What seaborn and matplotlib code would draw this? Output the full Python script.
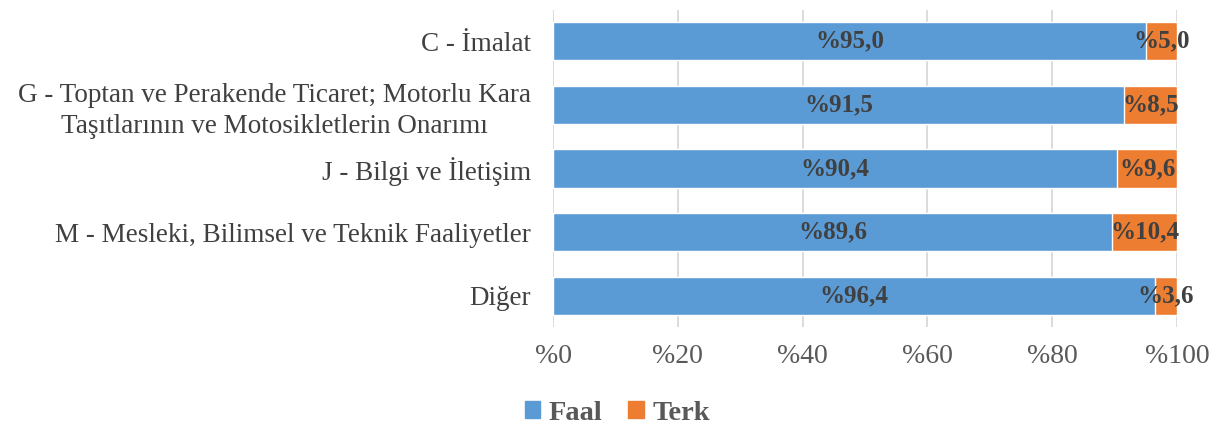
import numpy as np
import pandas as pd
import matplotlib.pyplot as plt
import seaborn as sns
from matplotlib.patches import Patch

categories = ["C - İmalat",
              "G - Toptan ve Perakende Ticaret; Motorlu Kara\nTaşıtlarının ve Motosikletlerin Onarımı",
              "J - Bilgi ve İletişim",
              "M - Mesleki, Bilimsel ve Teknik Faaliyetler",
              "Diğer"]
faal = [95.0, 91.5, 90.4, 89.6, 96.4]
terk = [5.0, 8.5, 9.6, 10.4, 3.6]
ticks = [0, 20, 40, 60, 80, 100]

blue = "#5B9BD5"
orange = "#ED7D31"

sns.set_style("white")
plt.rcParams["font.family"] = ["Liberation Serif", "DejaVu Serif"]

dt = pd.DataFrame({"kat": categories, "Faal": faal, "Terk": terk})
dt["Toplam"] = dt.Faal + dt.Terk

fig = plt.figure(figsize=(12.2, 4.32), dpi=100)
ax = fig.add_axes([0.4533, 0.242, 0.5115, 0.736])

sns.barplot(data=dt, x="Toplam", y="kat", color=orange, width=0.6,
            saturation=1, ax=ax, zorder=2)
sns.barplot(data=dt, x="Faal", y="kat", color=blue, width=0.6,
            saturation=1, ax=ax, zorder=3)

ax.set_xlim(0, 100)
ax.set_xticks(ticks)
ax.set_xticklabels(["%" + str(t) for t in ticks], fontsize=20, color="#595959")
ax.tick_params(axis="x", length=0, pad=12)
ax.tick_params(axis="y", length=0, pad=16)
for lab in ax.get_yticklabels():
    lab.set_fontsize(19.5)
    lab.set_color("#404040")
    lab.set_multialignment("center")
    lab.set_linespacing(1.3)
ax.set_xlabel("")
ax.set_ylabel("")
ax.xaxis.grid(True, color="#D9D9D9", linewidth=1.3, zorder=0)
ax.set_axisbelow(True)
for s in ax.spines.values():
    s.set_visible(False)

for i in range(len(categories)):
    ax.text(faal[i] / 2, i, "%" + f"{faal[i]:.1f}".replace(".", ","),
            ha="center", va="center", fontsize=18, fontweight="bold",
            color="#404040", zorder=5)
    ax.text(faal[i] + terk[i] / 2, i, "%" + f"{terk[i]:.1f}".replace(".", ","),
            ha="center", va="center", fontsize=18, fontweight="bold",
            color="#404040", zorder=5)

handles = [Patch(color=blue, label="Faal"), Patch(color=orange, label="Terk")]
leg = fig.legend(handles=handles, loc="lower center", bbox_to_anchor=(0.506, -0.045),
                 ncol=2, frameon=False, handlelength=0.55, handleheight=0.55,
                 handletextpad=0.3, columnspacing=0.9,
                 prop={"size": 20.5, "weight": "bold"})
for t in leg.get_texts():
    t.set_color("#595959")

plt.savefig("out.png", dpi=100)
